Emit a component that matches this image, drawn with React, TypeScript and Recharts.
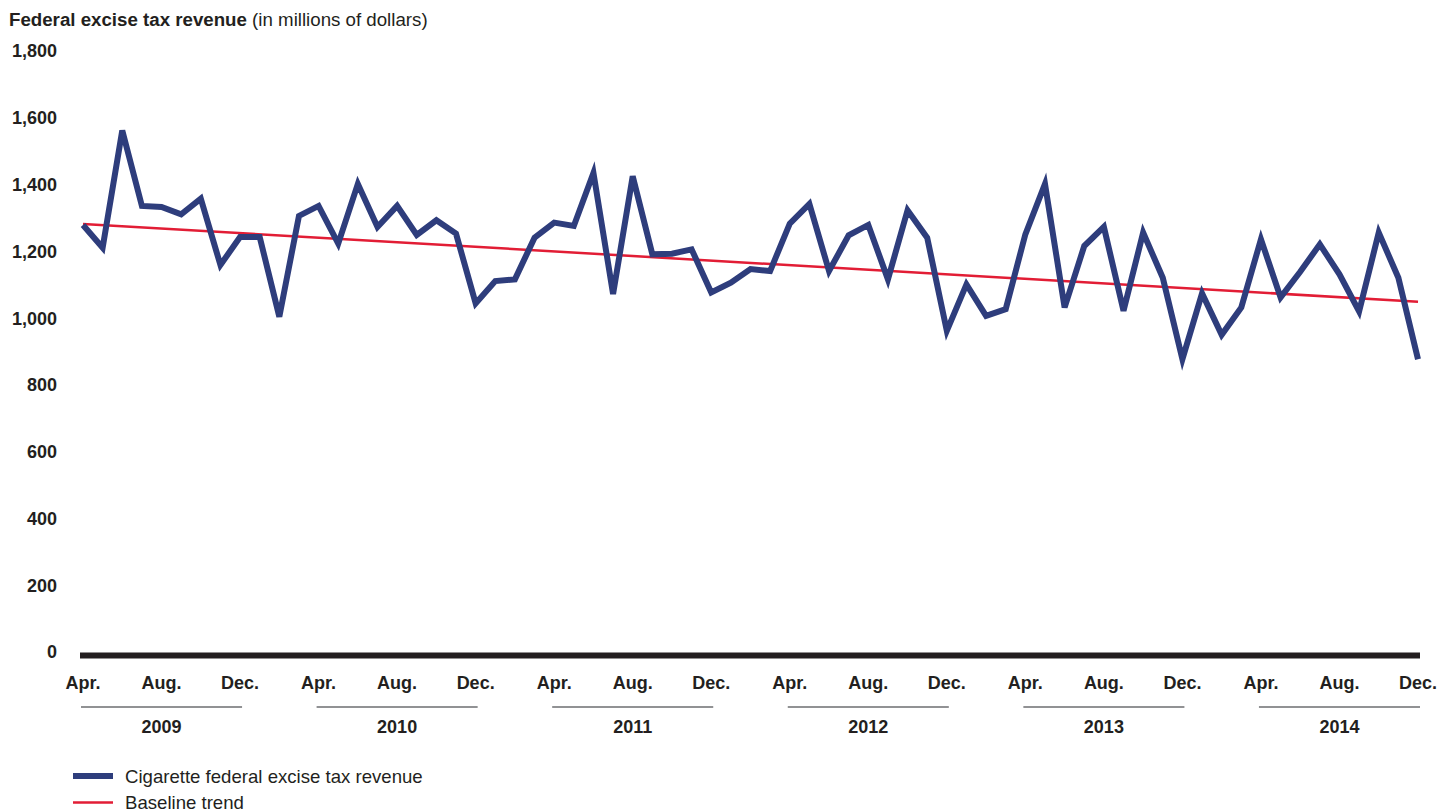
import React from 'react';
import { LineChart, Line, XAxis, YAxis, ReferenceLine } from 'recharts';

const YEARS = [2009, 2010, 2011, 2012, 2013, 2014];
const MONTH_NAMES = ['Jan.', 'Feb.', 'Mar.', 'Apr.', 'May', 'Jun.', 'Jul.', 'Aug.', 'Sep.', 'Oct.', 'Nov.', 'Dec.'];

// monthly, Apr. 2009 .. Dec. 2014
const months: string[] = [];
YEARS.forEach((yr) => {
  MONTH_NAMES.forEach((m, i) => {
    if (yr === 2009 && i < 3) return;
    months.push(`${m} ${yr}`);
  });
});

// cigarette federal excise tax revenue, millions of dollars
const revenue = [
  1279, 1211, 1562, 1336, 1333, 1311, 1358, 1159, 1243,
  1243, 1004, 1306, 1336, 1223, 1402, 1273, 1336, 1249, 1293, 1253, 1044,
  1111, 1116, 1241, 1286, 1276, 1435, 1072, 1425, 1191, 1193, 1206, 1077,
  1106, 1147, 1141, 1283, 1342, 1141, 1248, 1279, 1116, 1323, 1241, 962,
  1101, 1007, 1027, 1251, 1402, 1032, 1216, 1273, 1022, 1256, 1121, 877,
  1074, 950, 1032, 1236, 1062, 1139, 1221, 1131, 1020, 1256, 1121, 877,
];

// baseline trend, start and end value
const trend = [1282, 1049];

const yTicks = [0, 200, 400, 600, 800, 1000, 1200, 1400, 1600, 1800];

const data = months.map((m, i) => ({ m, v: revenue[i] }));

const FONT = '"Liberation Sans", Arial, sans-serif';
const INK = '#231f20';
const BLUE = '#2e3d7c';
const RED = '#e21d35';

const W = 1439;
const H = 812;
const MARGIN = { top: 51, right: 19, bottom: 100, left: 20 };
const Y_W = 60;
const PAD = { left: 3, right: 2 };
const STEP = (W - MARGIN.left - MARGIN.right - Y_W - PAD.left - PAD.right) / (months.length - 1);

function MonthTick(props: any) {
  const { x, y, payload } = props;
  const [mon, yr] = String(payload.value).split(' ');
  return (
    <g>
      <text x={x} y={y + 29} textAnchor="middle" fontFamily={FONT} fontSize={18} fontWeight="bold" fill={INK}>
        {mon}
      </text>
      {mon === 'Aug.' && (
        <g>
          <line x1={x - 4 * STEP - 2} x2={x + 4 * STEP + 2} y1={y + 47} y2={y + 47} stroke="#6d6e71" strokeWidth={1.3} />
          <text x={x} y={y + 73} textAnchor="middle" fontFamily={FONT} fontSize={18} fontWeight="bold" fill={INK}>
            {yr}
          </text>
        </g>
      )}
    </g>
  );
}

export default function App() {
  return (
    <div style={{ position: 'absolute', left: 0, top: 0, width: W, height: H, background: '#fff' }}>
      <LineChart width={W} height={H} data={data} margin={MARGIN}>
        <XAxis
          dataKey="m"
          interval={3}
          padding={PAD}
          tickLine={false}
          axisLine={{ stroke: INK, strokeWidth: 6, transform: 'translate(0,3.5)' }}
          tick={<MonthTick />}
          height={60}
        />
        <YAxis
          width={Y_W}
          domain={[0, 1800]}
          ticks={yTicks}
          axisLine={false}
          tickLine={false}
          tickMargin={17}
          tickFormatter={(v: number) => v.toLocaleString('en-US')}
          tick={{ fontFamily: FONT, fontSize: 18, fontWeight: 'bold', fill: INK }}
        />
        <ReferenceLine
          segment={[
            { x: months[0], y: trend[0] },
            { x: months[months.length - 1], y: trend[1] },
          ]}
          stroke={RED}
          strokeWidth={2.5}
        />
        <Line
          type="linear"
          dataKey="v"
          stroke={BLUE}
          strokeWidth={6}
          strokeLinejoin="miter"
          dot={false}
          activeDot={false}
          isAnimationActive={false}
        />
      </LineChart>
      <svg width={W} height={H} style={{ position: 'absolute', left: 0, top: 0, pointerEvents: 'none' }}>
        <text x={9} y={26} fontFamily={FONT} fontSize={18.7} fill={INK}>
          <tspan fontWeight="bold">Federal excise tax revenue</tspan>
          <tspan> (in millions of dollars)</tspan>
        </text>
        <line x1={73} x2={113} y1={776} y2={776} stroke={BLUE} strokeWidth={6} />
        <text x={125} y={783} fontFamily={FONT} fontSize={18.6} fill={INK}>
          Cigarette federal excise tax revenue
        </text>
        <line x1={73} x2={113} y1={802.5} y2={802.5} stroke={RED} strokeWidth={2.5} />
        <text x={125} y={809} fontFamily={FONT} fontSize={18.6} fill={INK}>
          Baseline trend
        </text>
      </svg>
    </div>
  );
}
